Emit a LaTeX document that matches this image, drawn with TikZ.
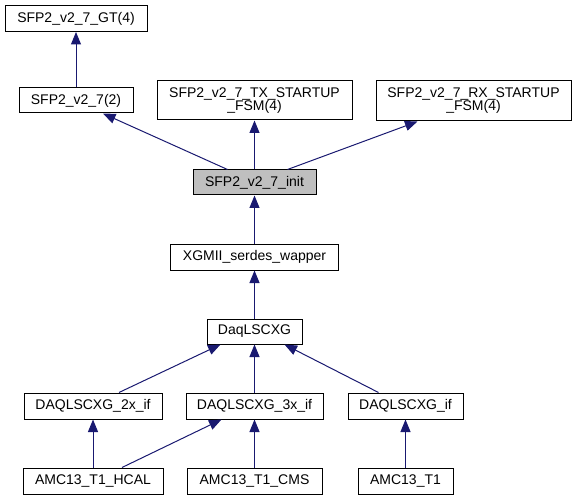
\documentclass[tikz,border=0pt]{standalone}
\usepackage{fontspec}
\setmainfont{Liberation Sans}
\usetikzlibrary{arrows.meta}

\definecolor{navy}{RGB}{25,25,112}

\begin{document}
\begin{tikzpicture}[x=1pt, y=-1pt,
    cls/.style={draw=black, line width=1pt, fill=white, inner sep=0pt, minimum height=25pt, font=\fontsize{14}{13}\selectfont, align=center},
    cur/.style={cls, fill=black!25},
    edge/.style={draw=navy, line width=1pt, -{Triangle[length=12.5pt,width=10pt]}}]
    \useasboundingbox (0,0) rectangle (576,500);

    % top rows
    \node[cls, minimum width=142pt, minimum height=26pt] (gt) at (76,18.5) {SFP2\_v2\_7\_GT(4)};
    \node[cls, minimum width=114pt] (sfp) at (76,100.5) {SFP2\_v2\_7(2)};
    \node[cls, minimum width=195pt, minimum height=39pt] (tx) at (254.5,100.5) {SFP2\_v2\_7\_TX\_STARTUP\\\_FSM(4)};
    \node[cls, minimum width=195pt, minimum height=40pt] (rx) at (473.5,101) {SFP2\_v2\_7\_RX\_STARTUP\\\_FSM(4)};
    \node[cur, minimum width=123pt] (init) at (254.5,182.5) {SFP2\_v2\_7\_init};
    \node[cls, minimum width=168pt, minimum height=26pt] (xg) at (254.5,257) {XGMII\_serdes\_wapper};
    \node[cls, minimum width=95pt] (daq) at (254.5,331.5) {DaqLSCXG};

    % interfaces
    \node[cls, minimum width=138pt, minimum height=26pt] (if2) at (93,406) {DAQLSCXG\_2x\_if};
    \node[cls, minimum width=137pt, minimum height=26pt] (if3) at (254.5,406) {DAQLSCXG\_3x\_if};
    \node[cls, minimum width=115pt, minimum height=26pt] (ifq) at (405.5,406) {DAQLSCXG\_if};

    % boards
    \node[cls, minimum width=140pt, minimum height=26pt] (hcal) at (93,481) {AMC13\_T1\_HCAL};
    \node[cls, minimum width=135pt, minimum height=26pt] (cms) at (254.5,481) {AMC13\_T1\_CMS};
    \node[cls, minimum width=95pt, minimum height=26pt] (t1) at (405.5,481) {AMC13\_T1};

    \draw[edge] (sfp.north) -- (gt.south);
    \draw[edge] ([xshift=35pt]init.north west) -- ([xshift=27pt]sfp.south);
    \draw[edge] (init.north) -- (tx.south);
    \draw[edge] ([xshift=-29pt]init.north east) -- ([xshift=42pt]rx.south west);
    \draw[edge] (xg.north) -- (init.south);
    \draw[edge] (daq.north) -- (xg.south);

    \draw[edge] ([xshift=26pt]if2.north) -- ([xshift=-34pt]daq.south);
    \draw[edge] (if3.north) -- (daq.south);
    \draw[edge] ([xshift=-27pt]ifq.north) -- ([xshift=30pt]daq.south);

    \draw[edge] (hcal.north) -- (if2.south);
    \draw[edge] ([xshift=29pt]hcal.north) -- ([xshift=-33pt]if3.south);
    \draw[edge] (cms.north) -- (if3.south);
    \draw[edge] (t1.north) -- (ifq.south);
  \end{tikzpicture}
\end{document}
